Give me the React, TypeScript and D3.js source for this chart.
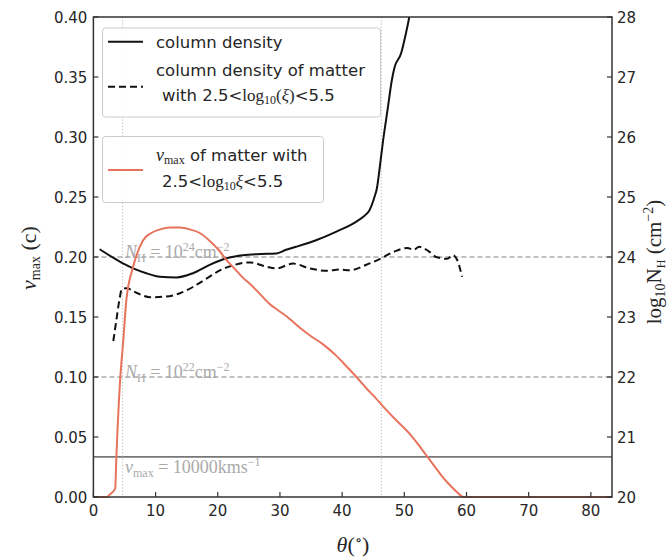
import React from 'react';
import * as d3 from 'd3';

// ---------- data ----------
const thetaTicks = [0, 10, 20, 30, 40, 50, 60, 70, 80];
const vTicks = [0, 0.05, 0.1, 0.15, 0.2, 0.25, 0.3, 0.35, 0.4];
const nhTicks = [20, 21, 22, 23, 24, 25, 26, 27, 28];

// column density (log10 N_H), right axis
const colTheta = [1.0, 3.0, 5.0, 6.4, 8.5, 10.7, 13.4, 16.0, 18.7, 21.4, 24.0, 27.0, 29.4, 31.0, 32.6, 35.8, 39.0, 42.3, 43.5, 44.4, 45.2, 45.6, 46.0, 46.6, 47.3, 48.0, 48.4, 49.5, 50.2, 50.8, 51.3];
const colLogNH = [24.13, 24.0, 23.88, 23.81, 23.73, 23.67, 23.66, 23.73, 23.87, 23.98, 24.03, 24.05, 24.06, 24.12, 24.17, 24.28, 24.42, 24.59, 24.68, 24.78, 25.0, 25.15, 25.45, 25.95, 26.45, 26.95, 27.15, 27.4, 27.7, 28.0, 28.3];

// column density of matter with 2.5<log xi<5.5, right axis
const ionTheta = [3.2, 3.7, 4.2, 4.6, 5.3, 7.0, 9.1, 11.7, 14.0, 16.0, 17.1, 18.5, 20.4, 22.4, 25.2, 27.8, 29.4, 32.1, 34.8, 37.5, 39.6, 41.2, 43.9, 46.3, 48.4, 50.5, 51.5, 52.4, 53.2, 54.0, 55.1, 56.9, 57.8, 58.5, 59.3];
const ionLogNH = [22.6, 22.95, 23.3, 23.47, 23.48, 23.4, 23.33, 23.34, 23.4, 23.5, 23.57, 23.66, 23.78, 23.86, 23.91, 23.84, 23.81, 23.89, 23.81, 23.77, 23.79, 23.78, 23.87, 23.98, 24.09, 24.15, 24.12, 24.17, 24.14, 24.09, 24.0, 23.97, 24.03, 23.95, 23.67];

// v_max (c), left axis
const vTheta = [0, 2.2, 2.6, 3.5, 3.7, 4.3, 4.8, 5.3, 6.4, 8.0, 9.3, 10.7, 12.3, 13.9, 15.5, 17.1, 18.8, 20.3, 21.3, 22.4, 24.0, 25.5, 27.0, 28.3, 29.6, 31.2, 33.2, 35.0, 37.0, 39.0, 40.5, 42.3, 44.0, 45.3, 46.5, 48.5, 50.8, 52.2, 53.5, 54.8, 56.1, 57.5, 58.5, 59.5, 70, 83.4];
const vMax = [0, 0, 0.002, 0.007, 0.034, 0.0975, 0.13, 0.164, 0.192, 0.214, 0.22, 0.223, 0.2245, 0.2245, 0.223, 0.22, 0.213, 0.205, 0.198, 0.192, 0.183, 0.176, 0.168, 0.161, 0.156, 0.15, 0.141, 0.134, 0.127, 0.118, 0.11, 0.1, 0.09, 0.083, 0.076, 0.065, 0.053, 0.044, 0.035, 0.026, 0.017, 0.009, 0.004, 0, 0, 0];

const refLogNH = [24, 22];
const refV = 0.0334; // 10000 km/s in units of c
const refTheta = [4.7, 46.3];

// ---------- layout ----------
const W = 669, H = 558;
const L = 93.4, R = 612, T = 17, B = 497;

const x = d3.scaleLinear().domain([0, 83.4]).range([L, R]);
const yV = d3.scaleLinear().domain([0, 0.4]).range([B, T]);
const yN = d3.scaleLinear().domain([20, 28]).range([B, T]);

const lineN = (th: number[], v: number[]) =>
  d3.line<number>().x((_, i) => x(th[i])).y((d) => yN(d)).curve(d3.curveMonotoneX)(v) || '';
const lineV = d3.line<number>().x((_, i) => x(vTheta[i])).y((d) => yV(d)).curve(d3.curveMonotoneX);

const SANS = 'DejaVu Sans, sans-serif';
const SERIF = 'Liberation Serif, DejaVu Serif, serif';
const TICKC = '#262626';
const RED = '#e8735c';

export default function App() {
  return (
    <svg width={W} height={H} style={{ position: 'absolute', left: 0, top: 0, background: '#fff' }}>
      <defs>
        <clipPath id="plot">
          <rect x={L} y={T} width={R - L} height={B - T} />
        </clipPath>
      </defs>
      <rect x={0} y={0} width={W} height={H} fill="#fff" />

      {/* reference lines */}
      {refLogNH.map((v) => (
        <line key={v} x1={L} x2={R} y1={yN(v)} y2={yN(v)} stroke="#aaa" strokeWidth={1.3} strokeDasharray="5,3" />
      ))}
      <line x1={L} x2={R} y1={yV(refV)} y2={yV(refV)} stroke="#777" strokeWidth={1.6} />
      {refTheta.map((t) => (
        <line key={t} x1={x(t)} x2={x(t)} y1={T} y2={B} stroke="#bbb" strokeWidth={1} strokeDasharray="1.2,2" />
      ))}

      {/* reference annotations */}
      <text x={125} y={yN(24) + 1} fontFamily={SERIF} fontSize={18} fill="#aaa">
        <tspan fontStyle="italic">N</tspan>
        <tspan fontSize={12} dy={4}>H</tspan>
        <tspan dy={-4}> = 10</tspan>
        <tspan fontSize={12} dy={-7}>24</tspan>
        <tspan dy={7}>cm</tspan>
        <tspan fontSize={12} dy={-7}>−2</tspan>
      </text>
      <text x={125} y={yN(22) + 1} fontFamily={SERIF} fontSize={18} fill="#aaa">
        <tspan fontStyle="italic">N</tspan>
        <tspan fontSize={12} dy={4}>H</tspan>
        <tspan dy={-4}> = 10</tspan>
        <tspan fontSize={12} dy={-7}>22</tspan>
        <tspan dy={7}>cm</tspan>
        <tspan fontSize={12} dy={-7}>−2</tspan>
      </text>
      <text x={125} y={yV(refV) + 16} fontFamily={SERIF} fontSize={18} fill="#aaa">
        <tspan fontStyle="italic">v</tspan>
        <tspan fontSize={12} dy={4}>max</tspan>
        <tspan dy={-4}> = 10000kms</tspan>
        <tspan fontSize={12} dy={-7}>−1</tspan>
      </text>

      {/* data */}
      <g clipPath="url(#plot)">
        <path d={lineN(colTheta, colLogNH)} fill="none" stroke="#111" strokeWidth={2} />
        <path d={lineN(ionTheta, ionLogNH)} fill="none" stroke="#111" strokeWidth={2} strokeDasharray="7,4" />
      </g>
      <path d={lineV(vMax) || ''} fill="none" stroke={RED} strokeWidth={2} />

      {/* frame */}
      <rect x={L} y={T} width={R - L} height={B - T} fill="none" stroke="#333" strokeWidth={1.5} />

      {/* x ticks */}
      {thetaTicks.map((t) => (
        <g key={t}>
          <line x1={x(t)} x2={x(t)} y1={B} y2={B - 5} stroke="#333" strokeWidth={1.2} />
          <text x={x(t)} y={B + 19} textAnchor="middle" fontFamily={SANS} fontSize={15} fill={TICKC}>{t}</text>
        </g>
      ))}
      {/* left ticks */}
      {vTicks.map((v) => (
        <g key={v}>
          <line x1={L} x2={L + 5} y1={yV(v)} y2={yV(v)} stroke="#333" strokeWidth={1.2} />
          <text x={L - 6} y={yV(v) + 5.5} textAnchor="end" fontFamily={SANS} fontSize={15} fill={TICKC}>{v.toFixed(2)}</text>
        </g>
      ))}
      {/* right ticks */}
      {nhTicks.map((v) => (
        <g key={v}>
          <line x1={R - 5} x2={R} y1={yN(v)} y2={yN(v)} stroke="#333" strokeWidth={1.2} />
          <text x={R + 5} y={yN(v) + 5.5} textAnchor="start" fontFamily={SANS} fontSize={15} fill={TICKC}>{v}</text>
        </g>
      ))}

      {/* axis titles */}
      <text x={353} y={552} textAnchor="middle" fontFamily={SERIF} fontSize={22} fill={TICKC}>
        <tspan fontStyle="italic">θ</tspan>
        <tspan>(</tspan>
        <tspan fontSize={15} dy={-7}>∘</tspan>
        <tspan dy={7}>)</tspan>
      </text>
      <text transform="translate(36,258) rotate(-90)" textAnchor="middle" fontFamily={SERIF} fontSize={22} fill={TICKC}>
        <tspan fontStyle="italic">v</tspan>
        <tspan fontSize={14} dy={4}>max</tspan>
        <tspan dy={-4}> (c)</tspan>
      </text>
      <text transform="translate(661,262) rotate(-90)" textAnchor="middle" fontFamily={SERIF} fontSize={21} fill={TICKC}>
        <tspan>log</tspan>
        <tspan fontSize={14} dy={4}>10</tspan>
        <tspan dy={-4}>N</tspan>
        <tspan fontSize={12} dy={4}>H</tspan>
        <tspan dy={-4}> (cm</tspan>
        <tspan fontSize={14} dy={-8}>−2</tspan>
        <tspan dy={8}>)</tspan>
      </text>

      {/* legend 1 */}
      <rect x={102.5} y={28} width={278} height={89} rx={3} fill="#fff" fillOpacity={0.85} stroke="#ccc" strokeWidth={1} />
      <line x1={108} x2={143} y1={41.7} y2={41.7} stroke="#111" strokeWidth={2} />
      <text x={156} y={47.5} fontFamily={SANS} fontSize={16.5} fill={TICKC}>column density</text>
      <line x1={108} x2={143} y1={86.7} y2={86.7} stroke="#111" strokeWidth={2} strokeDasharray="7,4" />
      <text x={156} y={76} fontFamily={SANS} fontSize={16.5} fill={TICKC}>column density of matter</text>
      <text x={162} y={100.5} fontFamily={SANS} fontSize={16.5} fill={TICKC}>
        <tspan>with 2.5&lt;</tspan>
        <tspan fontFamily={SERIF} fontSize={17}>log</tspan>
        <tspan fontFamily={SERIF} fontSize={12} dy={3}>10</tspan>
        <tspan fontFamily={SERIF} fontSize={17} dy={-3}>(</tspan>
        <tspan fontFamily={SERIF} fontSize={17} fontStyle="italic">ξ</tspan>
        <tspan fontFamily={SERIF} fontSize={17}>)</tspan>
        <tspan>&lt;5.5</tspan>
      </text>

      {/* legend 2 */}
      <rect x={102.5} y={136.5} width={221} height={66} rx={3} fill="#fff" fillOpacity={0.85} stroke="#ccc" strokeWidth={1} />
      <line x1={108} x2={143} y1={170} y2={170} stroke={RED} strokeWidth={2} />
      <text x={156} y={161} fontFamily={SANS} fontSize={16.5} fill={TICKC}>
        <tspan fontFamily={SERIF} fontStyle="italic" fontSize={18}>v</tspan>
        <tspan fontFamily={SERIF} fontSize={12} dy={3}>max</tspan>
        <tspan dy={-3}> of matter with</tspan>
      </text>
      <text x={162} y={187} fontFamily={SANS} fontSize={16.5} fill={TICKC}>
        <tspan>2.5&lt;</tspan>
        <tspan fontFamily={SERIF} fontSize={17}>log</tspan>
        <tspan fontFamily={SERIF} fontSize={12} dy={3}>10</tspan>
        <tspan fontFamily={SERIF} fontSize={17} fontStyle="italic" dy={-3}>ξ</tspan>
        <tspan>&lt;5.5</tspan>
      </text>
    </svg>
  );
}
